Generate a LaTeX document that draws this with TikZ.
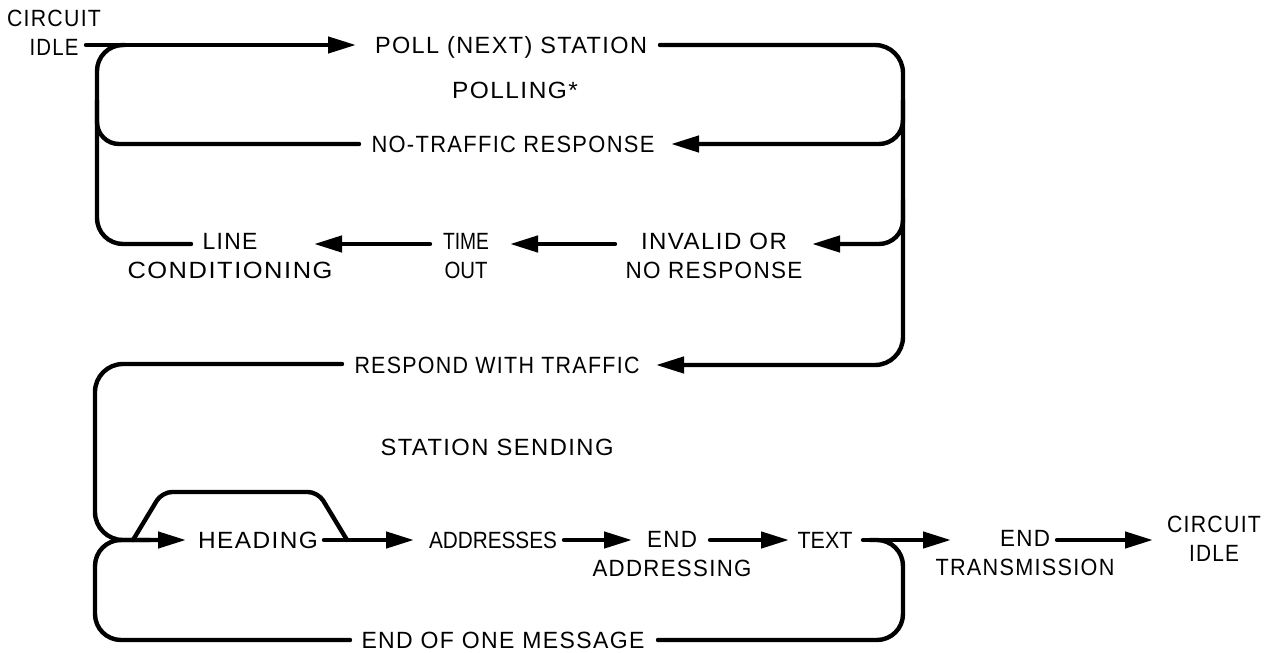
\documentclass[tikz,border=0pt]{standalone}
\usepackage{fontspec}
\usepackage{graphicx}
\setmainfont{Liberation Sans}[LetterSpace=6]
\usetikzlibrary{arrows.meta}
\newlength\fitlen
\newcommand\fitw[2]{\settowidth\fitlen{#2}\pgfmathsetmacro\fitscale{#1/\fitlen}\scalebox{\fitscale}[1]{#2}}
\newcommand\tight{\addfontfeature{LetterSpace=0}}
\begin{document}
\begin{tikzpicture}[x=1pt,y=-1pt,
  ln/.style={line width=4.4pt, line cap=round},
  arr/.style={ln, -{Triangle[length=28pt,width=16pt]}},
  loop/.style={ln, rounded corners=26pt},
  lbl/.style={font=\fontsize{23.5}{28.5}\selectfont, align=center, inner sep=0pt, anchor=base}]
\useasboundingbox (0,0) rectangle (1272,653);
\fill[white] (0,0) rectangle (1272,653);
% labels (base = baseline of the last line)
\node[lbl] (idleA) at (54,55) {\fitw{94}{CIRCUIT}\\\fitw{49}{IDLE}};
\node[lbl] (poll) at (511,53) {\fitw{272}{POLL (NEXT) STATION}};
\node[lbl] (polling) at (515,98) {\fitw{126}{POLLING*}};
\node[lbl] (notraf) at (513,152) {\fitw{283}{NO-TRAFFIC RESPONSE}};
\node[lbl] (linec) at (230,278) {\fitw{55}{LINE}\\\fitw{205}{CONDITIONING}};
\node[lbl] (timeout) at (466,278) {\tight\fitw{46}{TIME}\\\tight\fitw{43}{OUT}};
\node[lbl] (invalid) at (714,278) {\fitw{146}{INVALID OR}\\\fitw{177}{NO RESPONSE}};
\node[lbl] (respond) at (497,373) {\fitw{285}{RESPOND WITH TRAFFIC}};
\node[lbl] (sending) at (497,455) {\fitw{233}{STATION SENDING}};
\node[lbl] (heading) at (258,548) {\fitw{120}{HEADING}};
\node[lbl] (addr) at (493,548) {\tight\fitw{128}{ADDRESSES}};
\node[lbl] (endaddr) at (672,576) {\fitw{50}{END}\\\fitw{159}{ADDRESSING}};
\node[lbl] (text) at (825,548) {\tight\fitw{55}{TEXT}};
\node[lbl] (endtx) at (1025,575) {\fitw{50}{END}\\\fitw{179}{TRANSMISSION}};
\node[lbl] (idleB) at (1214,561) {\fitw{94}{CIRCUIT}\\\fitw{50}{IDLE}};
\node[lbl] (eom) at (503,648) {\fitw{283}{END OF ONE MESSAGE}};
% connector end points
\coordinate (a0) at (86,45);   \coordinate (a1) at (356,45);
\coordinate (l0) at (125,45);  \coordinate (l1) at (97,45);
\coordinate (l2) at (97,244);  \coordinate (l3) at (191,244);
\coordinate (m0) at (97,100);  \coordinate (m1) at (97,144);
\coordinate (m2) at (359,144);
\coordinate (r0) at (660,45);  \coordinate (r1) at (903,45);
\coordinate (r2) at (903,365); \coordinate (r3) at (656,365);
\coordinate (n0) at (903,100); \coordinate (n1) at (903,144);
\coordinate (n2) at (671,144);
\coordinate (i0) at (903,200); \coordinate (i1) at (903,244);
\coordinate (i2) at (812,244);
\coordinate (t0) at (615,244); \coordinate (t1) at (510,244);
\coordinate (c0) at (430,244); \coordinate (c1) at (314,244);
\coordinate (s0) at (342,364); \coordinate (s1) at (95,364);
\coordinate (s2) at (95,540);  \coordinate (s3) at (186,540);
\coordinate (e0) at (150,540); \coordinate (e1) at (95,640);
\coordinate (e2) at (350,640);
\coordinate (h0) at (133,540); \coordinate (h1) at (162,492);
\coordinate (h2) at (318,492); \coordinate (h3) at (347,540);
\coordinate (d0) at (324,540); \coordinate (d1) at (414,540);
\coordinate (d2) at (564,540); \coordinate (d3) at (632,540);
\coordinate (d4) at (710,540); \coordinate (d5) at (789,540);
\coordinate (d6) at (863,540); \coordinate (d7) at (951,540);
\coordinate (d8) at (1057,540); \coordinate (d9) at (1153,540);
\coordinate (x0) at (870,540); \coordinate (x1) at (903,540);
\coordinate (x2) at (903,640); \coordinate (x3) at (658,640);
% polling part
\draw[arr] (a0) -- (a1);
\draw[loop] (l0) -- (l1) -- (l2) -- (l3);
\draw[ln, rounded corners=22pt] (m0) -- (m1) -- (m2);
\draw[arr, rounded corners=28pt] (r0) -- (r1) -- (r2) -- (r3);
\draw[arr, rounded corners=24pt] (n0) -- (n1) -- (n2);
\draw[arr, rounded corners=24pt] (i0) -- (i1) -- (i2);
\draw[arr] (t0) -- (t1);
\draw[arr] (c0) -- (c1);
% sending part
\draw[arr, rounded corners=28pt] (s0) -- (s1) -- (s2) -- (s3);
\draw[loop] (e0) -- (s2) -- (e1) -- (e2);
\draw[ln, rounded corners=10pt] (h0) -- (h1) -- (h2) -- (h3);
\draw[arr] (d0) -- (d1);
\draw[arr] (d2) -- (d3);
\draw[arr] (d4) -- (d5);
\draw[arr] (d6) -- (d7);
\draw[arr] (d8) -- (d9);
\draw[loop] (x0) -- (x1) -- (x2) -- (x3);
\end{tikzpicture}
\end{document}
